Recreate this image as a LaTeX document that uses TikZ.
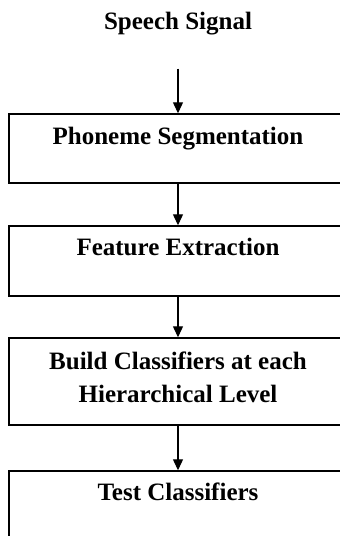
\documentclass[tikz,border=0pt]{standalone}
\usepackage{fontspec}
\setmainfont{Liberation Serif}
\usetikzlibrary{arrows.meta}

\begin{document}
\begin{tikzpicture}[
    x=1pt, y=1pt,
    every node/.style={font=\fontsize{25}{33}\selectfont\bfseries},
    block/.style={rectangle, draw, line width=1.4pt, minimum width=338pt, inner sep=0pt},
    heading/.style={anchor=base, align=center, inner sep=0pt},
    arrow/.style={-{Triangle[length=11pt, width=10pt]}, line width=1.2pt}
]
% -------------------------
% Page frame
% -------------------------
    \useasboundingbox (0, 0) rectangle (340, -536);
    \clip (0, 0) rectangle (340, -536);

% -------------------------
% Input
% -------------------------
    \node[inner sep=0pt] (signal) at (178, -24) {Speech Signal};

% -------------------------
% Processing steps
% -------------------------
    \node[block, minimum height=69pt] (seg) at (178, -148.5) {};
    \node[heading] (seg_t) at ([yshift=-31.5pt]seg.north) {Phoneme Segmentation};

    \node[block, minimum height=70pt] (feat) at (178, -261) {};
    \node[heading] (feat_t) at ([yshift=-30.5pt]feat.north) {Feature Extraction};

    % base anchor sits on the last line here
    \node[block, minimum height=87pt] (build) at (178, -381.5) {};
    \node[heading] (build_t) at ([yshift=-65.5pt]build.north) {Build Classifiers at each\\Hierarchical Level};

    \node[block, minimum height=69pt] (test) at (178, -505.5) {};
    \node[heading] (test_t) at ([yshift=-30.5pt]test.north) {Test Classifiers};

% -------------------------
% Arrows
% -------------------------
    \draw[arrow, shorten <=33pt] (signal) -- (seg);
    \draw[arrow] (seg) -- (feat);
    \draw[arrow] (feat) -- (build);
    \draw[arrow] (build) -- (test);
\end{tikzpicture}
\end{document}
